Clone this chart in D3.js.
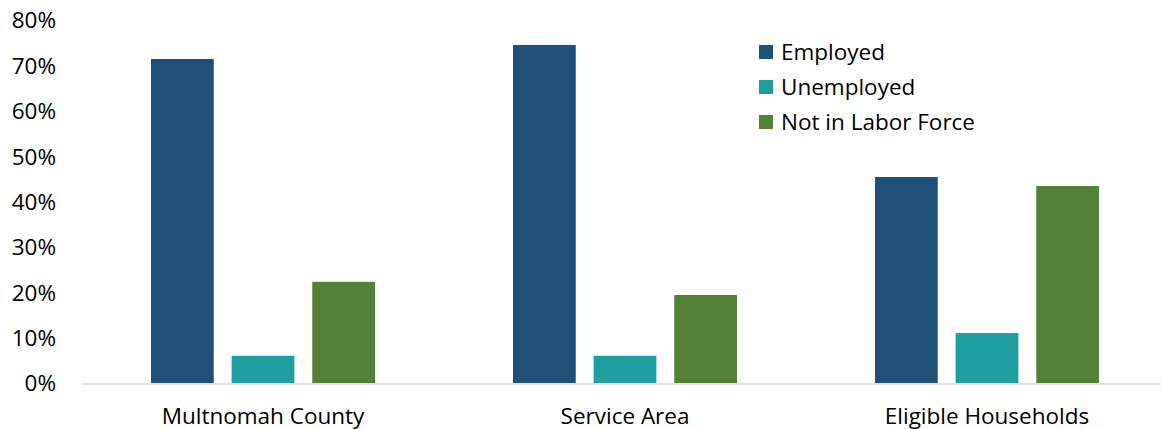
<!DOCTYPE html>
<html><head><meta charset="utf-8">
<script src="https://cdn.jsdelivr.net/npm/d3@7"></script>
<style>body{margin:0;background:#fff}svg{display:block}text{font-family:"Open Sans","Noto Sans",sans-serif;fill:#000}</style>
</head><body><svg id="c" width="1161" height="429"></svg>
<script>
const categories = ["Multnomah County", "Service Area", "Eligible Households"];
const seriesNames = ["Employed", "Unemployed", "Not in Labor Force"];
const employed = [0.714, 0.745, 0.454];
const unemployed = [0.060, 0.060, 0.110];
const notInLaborForce = [0.223, 0.194, 0.434];
const yTicks = [0, 0.1, 0.2, 0.3, 0.4, 0.5, 0.6, 0.7, 0.8];
const colors = ["#1f4e79", "#1f9e9f", "#538135"];

const values = [employed, unemployed, notInLaborForce];
const svg = d3.select("#c");
const x0 = d3.scaleBand().domain(categories).range([82, 1168]).padding(0);
const x1 = d3.scaleBand().domain(seriesNames).range([69, 293]).paddingInner(0.222).paddingOuter(0);
const y = d3.scaleLinear().domain([0, 0.8]).range([383, 20]);
const fs = "22.5px";

// y axis labels
const yAxis = svg.append("g").attr("transform", "translate(56,0)")
  .call(d3.axisLeft(y).tickValues(yTicks).tickFormat(d3.format(".0%")).tickSize(0).tickPadding(0));
yAxis.select(".domain").remove();
yAxis.selectAll("text").style("font-size", fs).attr("dy", "0.35em");

// bars
categories.forEach((c, ci) => {
  seriesNames.forEach((s, si) => {
    const v = values[si][ci];
    svg.append("rect")
      .attr("x", x0(c) + x1(s))
      .attr("y", y(v))
      .attr("width", x1.bandwidth())
      .attr("height", y(0) - y(v))
      .attr("fill", colors[si]);
  });
});

// x axis
const xAxis = svg.append("g").attr("transform", "translate(0,383.5)")
  .call(d3.axisBottom(x0).tickSize(0).tickPadding(25));
xAxis.select(".domain").attr("stroke", "#d9d9d9").attr("stroke-width", 1.5);
xAxis.selectAll("text").style("font-size", fs);

// legend
const lg = svg.append("g");
seriesNames.forEach((s, i) => {
  const cy = 52 + i * 35;
  lg.append("rect").attr("x", 759).attr("y", cy - 7).attr("width", 14).attr("height", 14).attr("fill", colors[i]);
  lg.append("text").attr("x", 781).attr("y", cy).attr("dy", "0.35em").style("font-size", fs).text(s);
});
</script></body></html>
